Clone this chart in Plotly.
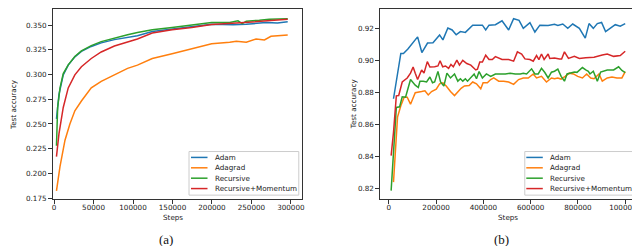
import plotly.graph_objects as go

# ---------------- data: panel (a) ----------------
a_adam_x = [3000, 6200, 11600, 17900, 26300, 34600, 47100, 59700, 76400, 93100, 105600, 124400, 149500, 174500, 199600, 226800, 243500, 268500, 283000, 296000]
a_adam_y = [0.2551, 0.280, 0.2997, 0.3096, 0.318, 0.3235, 0.3285, 0.3321, 0.3354, 0.3378, 0.3394, 0.3437, 0.346, 0.3487, 0.351, 0.3505, 0.351, 0.3527, 0.3522, 0.3534]

a_adagrad_x = [3000, 7500, 13800, 20000, 26300, 34600, 47100, 59700, 76400, 93100, 105600, 124400, 149500, 174500, 199600, 222500, 230900, 243500, 256000, 266500, 274800, 296000]
a_adagrad_y = [0.1823, 0.2071, 0.2336, 0.250, 0.2634, 0.2733, 0.2865, 0.2932, 0.2997, 0.3063, 0.3096, 0.3163, 0.3212, 0.3262, 0.3312, 0.3328, 0.3338, 0.3328, 0.3361, 0.3351, 0.3388, 0.3401]

a_rec_x = [3000, 4500, 7500, 11600, 17900, 26300, 34600, 47100, 59700, 76400, 93100, 105600, 124400, 149500, 174500, 199600, 222500, 233000, 238400, 243500, 260100, 272700, 296000]
a_rec_y = [0.228, 0.2667, 0.2865, 0.301, 0.3098, 0.3183, 0.324, 0.3293, 0.3334, 0.3371, 0.3404, 0.3427, 0.3453, 0.3477, 0.3503, 0.3527, 0.3527, 0.3544, 0.3516, 0.3541, 0.3551, 0.3561, 0.3565]

a_recm_x = [3000, 6200, 11600, 17900, 26300, 34600, 47100, 59700, 76400, 93100, 105600, 124400, 149500, 174500, 199600, 231000, 256000, 281100, 296000]
a_recm_y = [0.217, 0.2402, 0.2667, 0.2865, 0.2997, 0.308, 0.3163, 0.3229, 0.3289, 0.3334, 0.3361, 0.342, 0.3453, 0.3477, 0.3507, 0.3521, 0.3534, 0.3551, 0.356]

# ---------------- data: panel (b) ----------------
b_adam = [(20000, 0.876), (51000, 0.9043), (62000, 0.9043), (80000, 0.907), (122000, 0.9147), (140000, 0.9049),
          (164000, 0.9108), (187000, 0.911), (215000, 0.9159), (229000, 0.9128), (250000, 0.9202), (268000, 0.919),
          (285000, 0.916), (303000, 0.918), (324000, 0.9175), (355000, 0.922), (396000, 0.922), (410000, 0.919),
          (424000, 0.922), (451000, 0.9223), (479000, 0.9247), (507000, 0.919), (528000, 0.926), (551000, 0.925),
          (569000, 0.920), (597000, 0.9235), (618000, 0.9177), (639000, 0.922), (674000, 0.9218), (701000, 0.9225),
          (715000, 0.9218), (736000, 0.9227), (757000, 0.920), (778000, 0.9227), (806000, 0.920), (831000, 0.9139),
          (847000, 0.923), (865000, 0.920), (882000, 0.923), (900000, 0.9237), (917000, 0.918), (938000, 0.920),
          (958000, 0.9223), (979000, 0.9214), (1000000, 0.923)]
b_adagrad = [(20000, 0.8239), (30000, 0.850), (37000, 0.8645), (51000, 0.8716), (65000, 0.877), (78000, 0.877),
             (92000, 0.8726), (112000, 0.8798), (125000, 0.880), (139000, 0.8805), (153000, 0.881), (167000, 0.8784),
             (181000, 0.8805), (201000, 0.882), (215000, 0.8853), (229000, 0.886), (243000, 0.884), (261000, 0.8805),
             (278000, 0.878), (292000, 0.8805), (306000, 0.8825), (320000, 0.884), (340000, 0.8843), (355000, 0.8865),
             (371000, 0.8853), (389000, 0.8822), (399000, 0.886), (417000, 0.886), (431000, 0.888), (444000, 0.889),
             (465000, 0.887), (486000, 0.887), (507000, 0.8865), (528000, 0.885), (549000, 0.888), (569000, 0.889),
             (590000, 0.889), (611000, 0.8915), (625000, 0.889), (646000, 0.890), (667000, 0.8865), (688000, 0.889),
             (701000, 0.8885), (715000, 0.889), (729000, 0.8883), (746000, 0.890), (764000, 0.892), (781000, 0.8915),
             (799000, 0.890), (819000, 0.889), (837000, 0.8915), (854000, 0.889), (868000, 0.8885), (889000, 0.8915),
             (903000, 0.887), (924000, 0.889), (944000, 0.8896), (965000, 0.889), (986000, 0.889), (1000000, 0.893)]
b_rec = [(10000, 0.8186), (32000, 0.8706), (46000, 0.871), (57000, 0.8772), (71000, 0.877), (87000, 0.8845),
         (92000, 0.888), (112000, 0.8845), (125000, 0.883), (132000, 0.887), (146000, 0.887), (160000, 0.8865),
         (174000, 0.8896), (185000, 0.886), (194000, 0.8865), (208000, 0.8931), (219000, 0.8865), (233000, 0.8839),
         (246000, 0.892), (261000, 0.889), (278000, 0.8915), (292000, 0.887), (303000, 0.8885), (313000, 0.887),
         (324000, 0.8885), (333000, 0.887), (347000, 0.8896), (361000, 0.8915), (371000, 0.8885), (382000, 0.893),
         (396000, 0.889), (413000, 0.8915), (431000, 0.890), (451000, 0.8915), (472000, 0.8915), (493000, 0.8915),
         (514000, 0.892), (535000, 0.8915), (556000, 0.8915), (569000, 0.892), (583000, 0.8915), (604000, 0.8947),
         (618000, 0.8915), (632000, 0.8915), (646000, 0.895), (660000, 0.8924), (674000, 0.889), (688000, 0.8926),
         (701000, 0.8932), (715000, 0.8945), (729000, 0.890), (743000, 0.887), (754000, 0.8915), (771000, 0.892),
         (785000, 0.8927), (796000, 0.8925), (806000, 0.894), (819000, 0.8955), (833000, 0.894), (844000, 0.8932),
         (851000, 0.8915), (865000, 0.8932), (882000, 0.887), (896000, 0.8927), (924000, 0.894), (951000, 0.894),
         (972000, 0.896), (986000, 0.8937), (1000000, 0.8924)]
b_recm = [(10000, 0.8404), (20000, 0.855), (32000, 0.8778), (42000, 0.878), (57000, 0.8865), (78000, 0.889),
          (92000, 0.892), (103000, 0.8959), (112000, 0.892), (122000, 0.888), (139000, 0.894), (149000, 0.892),
          (163000, 0.8992), (174000, 0.8958), (194000, 0.896), (208000, 0.8965), (217000, 0.8998), (228000, 0.896),
          (240000, 0.8965), (253000, 0.895), (263000, 0.8975), (273000, 0.896), (288000, 0.9002), (299000, 0.897),
          (313000, 0.900), (330000, 0.898), (347000, 0.897), (368000, 0.894), (375000, 0.8945), (385000, 0.899),
          (396000, 0.899), (410000, 0.9032), (424000, 0.9005), (438000, 0.9005), (451000, 0.9023), (479000, 0.9005),
          (507000, 0.9005), (528000, 0.8995), (544000, 0.9053), (562000, 0.904), (576000, 0.9009), (597000, 0.9005),
          (611000, 0.8995), (625000, 0.903), (635000, 0.9005), (646000, 0.904), (657000, 0.9005), (674000, 0.904),
          (681000, 0.9012), (701000, 0.9014), (722000, 0.9009), (731000, 0.9009), (743000, 0.9053), (760000, 0.9012),
          (785000, 0.9025), (806000, 0.9012), (833000, 0.9017), (868000, 0.902), (903000, 0.9033), (924000, 0.904),
          (951000, 0.9025), (979000, 0.903), (1000000, 0.9057)]

names = ["Adam", "Adagrad", "Recursive", "Recursive+Momentum"]
colors = ["#1f77b4", "#ff7f0e", "#2ca02c", "#d62728"]
a_tickvals_y = [0.175, 0.200, 0.225, 0.250, 0.275, 0.300, 0.325, 0.350]
b_tickvals_y = [0.82, 0.84, 0.86, 0.88, 0.90, 0.92]
a_tickvals_x = [0, 50000, 100000, 150000, 200000, 250000, 300000]
b_tickvals_x = [0, 200000, 400000, 600000, 800000, 1000000]

W, H = 640, 246
FS = 7.2
fig = go.Figure()

a_series = [(a_adam_x, a_adam_y), (a_adagrad_x, a_adagrad_y), (a_rec_x, a_rec_y), (a_recm_x, a_recm_y)]
for (xs, ys), n, c in zip(a_series, names, colors):
    fig.add_trace(go.Scatter(x=xs, y=ys, mode="lines", name=n, line=dict(color=c, width=1.5),
                             xaxis="x", yaxis="y", showlegend=False))
b_series = [b_adam, b_adagrad, b_rec, b_recm]
for pts, n, c in zip(b_series, names, colors):
    fig.add_trace(go.Scatter(x=[p[0] for p in pts], y=[p[1] for p in pts], mode="lines", name=n,
                             line=dict(color=c, width=1.5), xaxis="x2", yaxis="y2", showlegend=False))

def px_x(p): return p / W
def px_y(p): return 1 - p / H

axis_common = dict(showline=True, linecolor="#333", linewidth=1, mirror=True, ticks="outside",
                   ticklen=3.5, tickwidth=1, tickcolor="#333", showgrid=False, zeroline=False,
                   tickfont=dict(family="DejaVu Sans", size=FS, color="#222"))
ydom = [px_y(194), px_y(0.5)]
fig.update_layout(
    width=W, height=H, margin=dict(l=0, r=0, t=0, b=0),
    paper_bgcolor="white", plot_bgcolor="white",
    xaxis=dict(domain=[px_x(44), px_x(296)], range=[-2000, 313800], tickvals=a_tickvals_x,
               tickformat="d", anchor="y", ticklabelstandoff=-2, **axis_common),
    yaxis=dict(domain=ydom, range=[0.174, 0.3659], tickvals=a_tickvals_y, tickformat=".3f",
               anchor="x", **axis_common),
    xaxis2=dict(domain=[px_x(375), px_x(633)], range=[-37500, 1041700], tickvals=b_tickvals_x,
                tickformat="d", anchor="y2", ticklabelstandoff=-2, **axis_common),
    yaxis2=dict(domain=ydom, range=[0.8133, 0.9318], tickvals=b_tickvals_y, tickformat=".2f",
                anchor="x2", **axis_common),
)

shapes = []
annotations = []
lab_font = dict(family="DejaVu Sans", size=FS, color="#222")
# legends
for (bx0, bx1, by0, by1, lx0, lx1, tx) in [(182, 293, 145.5, 190, 184, 200.7, 206.5),
                                            (521.5, 630.5, 145.5, 190, 523, 539.7, 545)]:
    shapes.append(dict(type="rect", xref="paper", yref="paper", x0=px_x(bx0), x1=px_x(bx1),
                       y0=px_y(by1), y1=px_y(by0), line=dict(color="#cccccc", width=1),
                       fillcolor="rgba(255,255,255,0.8)", layer="above"))
    for i, (n, c) in enumerate(zip(names, colors)):
        yy = 151.5 + i * 10.6
        shapes.append(dict(type="line", xref="paper", yref="paper", x0=px_x(lx0), x1=px_x(lx1),
                           y0=px_y(yy), y1=px_y(yy), line=dict(color=c, width=1.5), layer="above"))
        annotations.append(dict(text=n, xref="paper", yref="paper", x=px_x(tx), y=px_y(yy),
                                xanchor="left", yanchor="middle", showarrow=False, font=lab_font))

# axis labels and captions
for cx in [166, 505]:
    annotations.append(dict(text="Steps", xref="paper", yref="paper", x=px_x(cx), y=px_y(213),
                            xanchor="center", yanchor="middle", showarrow=False, font=lab_font))
for cx in [4, 348]:
    annotations.append(dict(text="Test accuracy", xref="paper", yref="paper", x=px_x(cx), y=px_y(97),
                            xanchor="center", yanchor="middle", textangle=-90, showarrow=False, font=lab_font))
for cx, t in [(158.5, "(a)"), (498.3, "(b)")]:
    annotations.append(dict(text=t, xref="paper", yref="paper", x=px_x(cx), y=px_y(235.5),
                            xanchor="center", yanchor="middle", showarrow=False,
                            font=dict(family="Liberation Serif", size=13, color="#111")))

fig.update_layout(shapes=shapes, annotations=annotations)
fig.write_html("out.html")
